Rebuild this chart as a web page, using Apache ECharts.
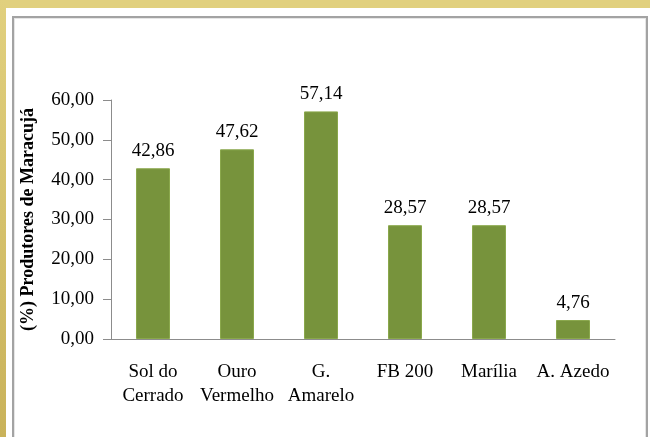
<!DOCTYPE html>
<html><head><meta charset="utf-8">
<script src="https://cdn.jsdelivr.net/npm/echarts@6/dist/echarts.min.js"></script>
<style>
html,body{margin:0;padding:0;background:#fff;}
#wrap{position:relative;width:650px;height:437px;overflow:hidden;background:#fff;}
#topband{position:absolute;left:0;top:0;width:650px;height:8px;background:#e1d07e;}
#leftband{position:absolute;left:0;top:0;width:6px;height:437px;background:linear-gradient(#e1d07e,#c9b25a);}
#frame{position:absolute;left:12px;top:16px;width:632px;height:430px;border:2px solid #a3a3a3;box-shadow:inset 0 0 0 1px #e6e6e6;}
#chart{position:absolute;left:0;top:0;width:650px;height:437px;}
</style></head>
<body><div id="wrap"><div id="topband"></div><div id="leftband"></div><div id="frame"></div><div id="chart"></div></div>
<script>
var categories = ['Sol do\nCerrado', 'Ouro\nVermelho', 'G.\nAmarelo', 'FB 200', 'Marília', 'A. Azedo'];
var values = [42.86, 47.62, 57.14, 28.57, 28.57, 4.76];
var yTicks = [0, 10, 20, 30, 40, 50, 60];
var yTitle = '(%) Produtores de Maracujá';

var fmt = function (v) { return Number(v).toFixed(2).replace('.', ','); };
var chart = echarts.init(document.getElementById('chart'), null, {renderer: 'canvas'});
chart.setOption({
  animation: false,
  backgroundColor: 'transparent',
  grid: {left: 111, right: 35, top: 100, bottom: 98, containLabel: false},
  xAxis: {
    type: 'category', data: categories,
    axisLine: {lineStyle: {color: '#8c8c8c', width: 1}},
    axisTick: {show: false},
    axisLabel: {interval: 0, color: '#000', fontFamily: 'Liberation Serif', fontSize: 19, lineHeight: 24, margin: 21}
  },
  yAxis: {
    type: 'value', min: yTicks[0], max: yTicks[yTicks.length - 1], interval: 10,
    name: yTitle, nameLocation: 'middle', nameGap: 74, nameRotate: 90,
    nameTextStyle: {color: '#000', fontFamily: 'Liberation Serif', fontSize: 18, fontWeight: 'bold'},
    axisLine: {show: true, lineStyle: {color: '#8c8c8c', width: 1}},
    axisTick: {show: true, inside: false, length: 8, lineStyle: {color: '#8c8c8c'}},
    splitLine: {show: false},
    axisLabel: {color: '#000', fontFamily: 'Liberation Serif', fontSize: 19, margin: 17, formatter: fmt}
  },
  series: [{
    type: 'bar', data: values, barWidth: 34,
    itemStyle: {color: '#77933c', borderColor: '#8aa84c', borderWidth: 1},
    label: {show: true, position: 'top', distance: 8, color: '#000', fontFamily: 'Liberation Serif', fontSize: 19, formatter: function (p) { return fmt(p.value); }}
  }]
});
</script></body></html>
